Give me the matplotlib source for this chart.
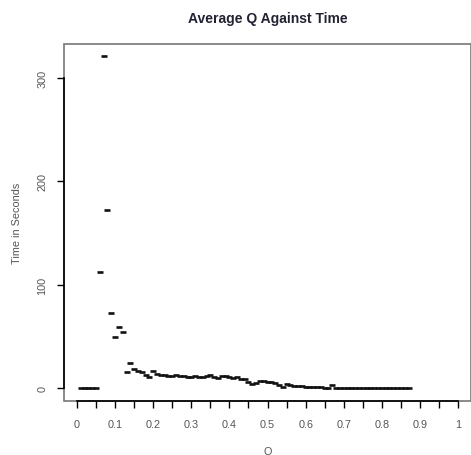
import numpy as np
import matplotlib.pyplot as plt
from matplotlib.patches import Rectangle

plt.rcParams['font.family'] = ['Liberation Sans', 'DejaVu Sans']

# average Q values and the time taken for each
q = np.round(np.arange(0.01, 0.88, 0.01), 2)
time_sec = [0, 0, 0, 0, 0,
            112, 321, 172, 73, 49, 59, 54, 15, 24,
            18, 16, 15, 13, 11, 16, 14, 13, 13, 12,
            12, 13, 12, 12, 11, 11, 12, 11, 11, 12,
            13, 11, 10, 12, 12, 11, 10, 11, 9, 9,
            6, 4, 5, 7, 7, 6, 6, 5, 3, 1,
            4, 3, 2, 2, 1.5, 1, 1, 0.8, 0.6, 0.5,
            0.4, 0.3, 3, 0.2, 0.2, 0.1, 0.1, 0.1, 0.1, 0,
            0, 0, 0, 0, 0, 0, 0, 0, 0, 0,
            0, 0, 0]
x_ticks = [0, 0.1, 0.2, 0.3, 0.4, 0.5, 0.6, 0.7, 0.8, 0.9, 1]
x_tick_labels = ['0', '0.1', '0.2', '0.3', '0.4', '0.5', '0.6', '0.7', '0.8', '0.9', '1']
y_ticks = [0, 100, 200, 300]

fig = plt.figure(figsize=(4.71, 4.56), dpi=100)
ax = fig.add_axes([0.136, 0.118, 0.864, 0.783])

ax.plot(q, time_sec, linestyle='none', marker='_', markersize=4.5,
        markeredgewidth=1.9, color='#111111')

ax.set_xlim(-0.034, 1.034)
ax.set_ylim(-12.8, 332.8)

# R style axes: black axis lines only over the tick range, grey box round the plot
for s in ['top', 'right']:
    ax.spines[s].set_visible(False)
ax.spines['left'].set_bounds(0, 300)
ax.spines['bottom'].set_bounds(0, 1)
ax.spines['left'].set_linewidth(1.2)
ax.spines['bottom'].set_linewidth(1.2)
ax.add_patch(Rectangle((0, 0), 1, 1, transform=ax.transAxes, fill=False,
                       edgecolor='#777777', linewidth=1.2, clip_on=False, zorder=0))

ax.set_xticks(x_ticks)
ax.set_xticklabels(x_tick_labels)
ax.set_xticks(np.arange(0.05, 1.0, 0.1), minor=True)
ax.set_yticks(y_ticks)
ax.set_yticklabels([str(v) for v in y_ticks], rotation=90, va='center')
ax.tick_params(axis='both', which='both', length=5, width=1, labelsize=7.8,
               labelcolor='#555555', direction='out')
ax.tick_params(axis='x', pad=8)
ax.tick_params(axis='y', pad=7)

ax.set_xlabel('Q', fontsize=7.8, color='#555555', labelpad=12)
ax.set_ylabel('Time in Seconds', fontsize=7.8, color='#555555', labelpad=11)
ax.set_title('Average Q Against Time', fontsize=10, fontweight='bold',
             color='#222233', pad=16)

fig.savefig('out.png', dpi=100)
